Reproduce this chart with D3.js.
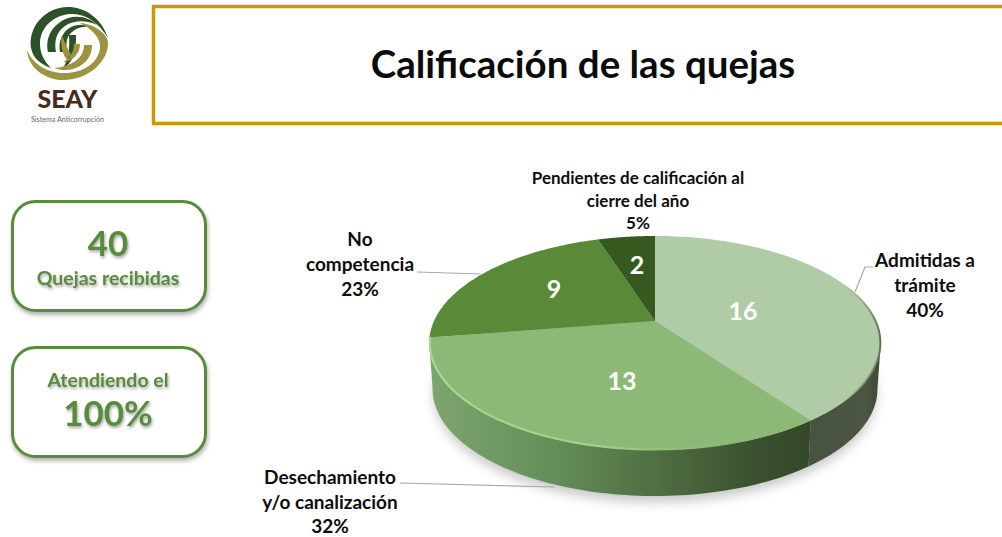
<!DOCTYPE html>
<html><head><meta charset="utf-8">
<style>html,body{margin:0;padding:0;background:#fff;overflow:hidden}svg{display:block}text{font-family:Lato,"Open Sans",sans-serif;font-weight:700}</style>
<script src="https://cdn.jsdelivr.net/npm/d3@7/dist/d3.min.js"></script>
</head><body>
<script>
// ---- data
const categories = ["Admitidas a trámite","Desechamiento y/o canalización","No competencia","Pendientes de calificación al cierre del año"];
const values = [16,13,9,2];
const percents = ["40%","32%","23%","5%"];
const title = "Calificación de las quejas";
const received = 40;
const attended = "100%";
// ---- layout
const labelLines = [["Admitidas a","trámite"],["Desechamiento","y/o canalización"],["No","competencia"],["Pendientes de calificación al","cierre del año"]];
const labelAt = [[925,267],[330,484],[360,246],[638,184]];
const labelStep = [25,24.5,25,22.5];
const labelSize = [19,19,19,17];
const valueAt = [[743,320],[622,390],[554,298],[637,274]];
const leaders = [[[873,267],[865,267],[855,292]],[[400,483],[555,487]],[[417,272],[481,274]]];
const topFill = ["#b0cca6","#8cb978","#5a8a38","#36591f"];

const svg = d3.select("body").append("svg").attr("width",1002).attr("height",537);
const defs = svg.append("defs");
const blur = (id,s)=>defs.append("filter").attr("id",id).attr("x","-20%").attr("y","-20%").attr("width","140%").attr("height","140%").append("feGaussianBlur").attr("stdDeviation",s);
blur("soft",6);
const soft = defs.append("filter").attr("id","cardShadow").attr("x","-20%").attr("y","-20%").attr("width","140%").attr("height","150%");
soft.append("feDropShadow").attr("dx",1).attr("dy",3).attr("stdDeviation",2).attr("flood-color","#000").attr("flood-opacity",.3);
const tshadow = defs.append("filter").attr("id","textShadow").attr("x","-20%").attr("y","-30%").attr("width","140%").attr("height","170%");
tshadow.append("feDropShadow").attr("dx",1).attr("dy",2).attr("stdDeviation",1.6).attr("flood-color","#000").attr("flood-opacity",.35);
const grad=(id,x1,x2,stops)=>{const g=defs.append("linearGradient").attr("id",id).attr("gradientUnits","userSpaceOnUse").attr("x1",x1).attr("x2",x2).attr("y1",0).attr("y2",0);
  stops.forEach(s=>g.append("stop").attr("offset",s[0]).attr("stop-color",s[1]).attr("stop-opacity",s[2]===undefined?1:s[2]));};
grad("wall13",432,808,[[0,"#7fa56f"],[.3,"#66905a"],[.62,"#4e6c40"],[.88,"#394f2d"],[1,"#34482a"]]);
grad("wall16",806,880,[[0,"#47533e"],[.8,"#4a5641"],[1,"#3e4936"]]);
grad("rim13",430,810,[[0,"#a8d88e"],[.45,"#a4d48a",.9],[.8,"#8cb978",.3],[1,"#8cb978",0]]);
grad("rim16",840,882,[[0,"#8a9a80",0],[1,"#5c6a54"]]);

// ---- header
svg.append("rect").attr("x",153.5).attr("y",6.5).attr("width",860).attr("height",117).attr("fill","#fff").attr("stroke","#c49a06").attr("stroke-width",3.5);
svg.append("text").attr("x",583).attr("y",78).attr("text-anchor","middle").attr("font-size",38.5).attr("fill","#0b0b0b").text(title);

// ---- logo
const logo = svg.append("g");
const dk="#2d5229", ol="#9c9440";
[
 [dk,"M108 38 C101 17 84 7 68 7 C45 7 28 27 31 48 C33 58 40 64 51 68 C43 60 40 52 40 44 C40 27 54 15 70 14 C86 13 99 23 108 38Z"],
 [dk,"M48 52 C45 38 52 24 68 18 C80 15 90 18 97 25 C86 20 74 20 65 26 C56 32 54 42 56 52Z"],
 [dk,"M60 52 C58 42 62 32 71 27 C78 24 84 24 89 27 C80 26 72 30 68 37 C66 41 66 47 67 52Z"],
 [dk,"M69 35 L76 35 C76 42 76 50 73 57 C71 62 67 66 63 68 C68 60 70 50 69 35Z"],
 [ol,"M27 50 C28 68 46 81 65 80 C90 79 109 60 108 42 C107 34 95 24 80 23 C92 29 101 38 100 48 C98 64 82 73 65 73 C48 73 33 65 27 50Z"],
 [ol,"M92 45 L84 45 C84 56 76 63 62 67 L54 68 C62 71 72 71 80 66 C88 61 92 54 92 45Z"],
 [ol,"M80 44 L74 44 C74 52 70 58 63 62 C72 62 80 54 80 44Z"],
 [ol,"M62 36 C65 43 68 49 71 55 L66 59 C62 52 60 44 62 36Z"]
].forEach(d=>logo.append("path").attr("fill",d[0]).attr("d",d[1]));
logo.append("text").attr("x",67.5).attr("y",108).attr("text-anchor","middle").attr("font-size",24).attr("fill","#4a2a1e").style("font-weight",900).attr("textLength",60).attr("lengthAdjust","spacingAndGlyphs").text("SEAY");
logo.append("text").attr("x",67.5).attr("y",121.5).attr("text-anchor","middle").attr("font-size",8).attr("fill","#666").style("font-weight",400).attr("textLength",73).attr("lengthAdjust","spacingAndGlyphs").text("Sistema Anticorrupción");

// ---- cards
const green="#5a8a3c";
[201,347].forEach(y=>svg.append("rect").attr("x",12.5).attr("y",y+.5).attr("width",193).attr("height",109).attr("rx",23).attr("fill","#fff").attr("stroke",green).attr("stroke-width",3).attr("filter","url(#cardShadow)"));
const cardText=(s,y,size)=>svg.append("text").attr("x",108).attr("y",y).attr("text-anchor","middle").attr("font-size",size).attr("fill",green).attr("filter","url(#textShadow)").text(s);
cardText(received,256,35);
cardText("Quejas recibidas",285,19.5);
cardText("Atendiendo el",387,19.5);
cardText(attended,426,35);

// ---- tilted pie: d3.pie angles passed through a perspective projection of the unit disc
const arcs = d3.pie().sort(null)(values);
const cx=655, X=221, a=36.5, b=321, c=-0.2056;
const project=(ang,r=1,dy=0,sx=1)=>{const x=r*Math.sin(ang),y=-r*Math.cos(ang),w=1+c*y;return [cx+sx*X*x/w,(a*y+b)/w+dy];};
const line=d3.line();
const sweep=(a0,a1,n=90)=>d3.range(n+1).map(i=>a0+(a1-a0)*i/n);
const depth=46, sxB=.985;
const pieG=svg.append("g");
// floor shadow
pieG.append("path").attr("d",line(sweep(0,2*Math.PI,180).map(t=>project(t,1,depth+6,.98)))+"Z").attr("fill","#000").attr("opacity",.22).attr("filter","url(#soft)");
// wall
const rightEdge=Math.PI-Math.acos(-c), leftEdge=Math.PI+Math.acos(-c);
const wall=(a0,a1)=>{const t=sweep(a0,a1);return line(t.map(v=>project(v)).concat(t.slice().reverse().map(v=>project(v,1,depth,sxB))))+"Z";};
pieG.append("path").attr("d",wall(rightEdge,arcs[0].endAngle)).attr("fill","url(#wall16)");
pieG.append("path").attr("d",wall(arcs[1].startAngle,Math.min(leftEdge,arcs[1].endAngle)+.01)).attr("fill","url(#wall13)");
// top
arcs.forEach((d,i)=>{
  const pts=[project(0,0)].concat(sweep(d.startAngle,d.endAngle).map(t=>project(t)));
  pieG.append("path").attr("d",line(pts)+"Z").attr("fill",topFill[i]);
});
// bevel along front rim
pieG.append("path").attr("d",line(sweep(arcs[1].startAngle,arcs[1].endAngle).map(t=>project(t,.997)))).attr("fill","none").attr("stroke","url(#rim13)").attr("stroke-width",2.2);
pieG.append("path").attr("d",line(sweep(Math.PI*.3,arcs[0].endAngle).map(t=>project(t,.998)))).attr("fill","none").attr("stroke","url(#rim16)").attr("stroke-width",2);

// leaders
leaders.forEach(p=>svg.append("path").attr("d",line(p)).attr("fill","none").attr("stroke","#a9a9a9").attr("stroke-width",1.2));

// value labels
values.forEach((v,i)=>svg.append("text").attr("x",valueAt[i][0]).attr("y",valueAt[i][1]).attr("text-anchor","middle").attr("font-size",25).attr("fill","#fff").text(v));

// category labels
categories.forEach((cat,i)=>{
  const t=svg.append("text").attr("text-anchor","middle").attr("font-size",labelSize[i]).attr("fill","#0d0d0d");
  labelLines[i].concat(percents[i]).forEach((s,j)=>t.append("tspan").attr("x",labelAt[i][0]).attr("y",labelAt[i][1]+j*labelStep[i]).text(s));
});
</script>
</body></html>
